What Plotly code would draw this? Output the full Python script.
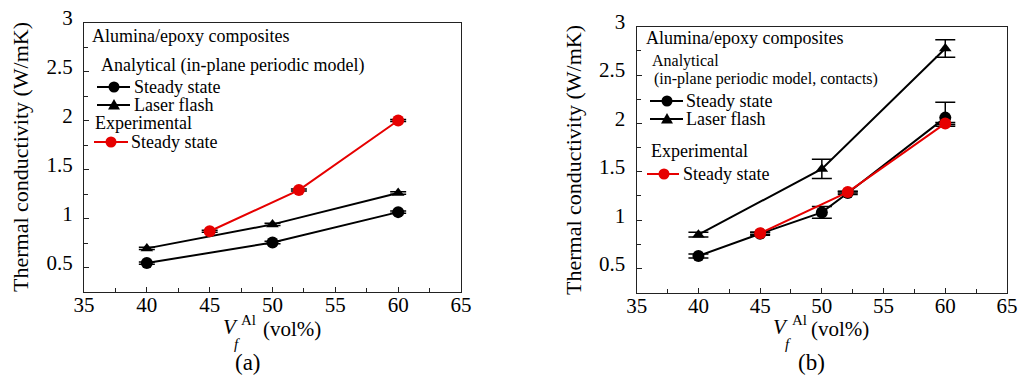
import plotly.graph_objects as go

W, H = 1018, 378
FONT = "Times New Roman"
RED = "#e60000"

# ---------------- data ----------------
# panel (a)
xa_ss = [40, 50, 60]
ya_ss = [0.545, 0.755, 1.065]
ea_ss = [0.012, 0.012, 0.012]
xa_lf = [40, 50, 60]
ya_lf = [0.695, 0.94, 1.26]
ea_lf = [0.012, 0.012, 0.012]
xa_exp = [45, 52.1, 60]
ya_exp = [0.87, 1.29, 2.0]
ea_exp = [0.01, 0.01, 0.01]

# panel (b)
xb_ss = [40, 45, 50, 52.1, 60]
yb_ss = [0.63, 0.86, 1.08, 1.28, 2.06]
eb_ss_plus = [0.02, 0.015, 0.06, 0.015, 0.16]
eb_ss_minus = [0.02, 0.015, 0.06, 0.015, 0.09]
xb_lf = [40, 50, 60]
yb_lf = [0.85, 1.53, 2.775]
eb_lf = [0.025, 0.1, 0.09]
xb_exp = [45, 52.1, 60]
yb_exp = [0.865, 1.29, 2.0]
eb_exp = [0.01, 0.01, 0.01]

x_ticks = [35, 40, 45, 50, 55, 60, 65]
x_ticklabels = ["35", "40", "45", "50", "55", "60", "65"]
y_ticks = [0.5, 1, 1.5, 2, 2.5, 3]
y_ticklabels = ["0.5", "1", "1.5", "2", "2.5", "3"]


def px(x):
    return x / W


def py(y):
    return 1 - y / H


fig = go.Figure()


def add_series(x, y, ep, em, xa, ya, color, symbol, size, capw, name):
    fig.add_trace(go.Scatter(
        x=x, y=y, xaxis=xa, yaxis=ya, mode="lines+markers", name=name,
        line=dict(color=color, width=2),
        marker=dict(color=color, symbol=symbol, size=size, line=dict(width=0)),
        error_y=dict(type="data", symmetric=False, array=ep, arrayminus=em,
                     color="black", thickness=1.5, width=capw),
        showlegend=False,
    ))


# panel (a)
add_series(xa_ss, ya_ss, ea_ss, ea_ss, "x", "y", "black", "circle", 12, 8, "ss")
add_series(xa_lf, ya_lf, ea_lf, ea_lf, "x", "y", "black", "triangle-up", 11, 8, "lf")
add_series(xa_exp, ya_exp, ea_exp, ea_exp, "x", "y", RED, "circle", 12, 8, "exp")
# panel (b)
add_series(xb_ss, yb_ss, eb_ss_plus, eb_ss_minus, "x2", "y2", "black", "circle", 12, 10, "ss")
add_series(xb_lf, yb_lf, eb_lf, eb_lf, "x2", "y2", "black", "triangle-up", 11, 10, "lf")
add_series(xb_exp, yb_exp, eb_exp, eb_exp, "x2", "y2", RED, "circle", 12, 10, "exp")

axis_common = dict(
    showline=True, linecolor="#222", linewidth=1.3, mirror=True, automargin=False,
    showgrid=False, zeroline=False, ticks="inside", ticklen=5, tickwidth=1.2,
    tickcolor="#222", tickfont=dict(family=FONT, size=21, color="black"),
)
xcommon = dict(axis_common, range=[35, 65], tickmode="array", tickvals=x_ticks,
               ticktext=x_ticklabels, ticklabelstandoff=-6,
               minor=dict(ticks="inside", ticklen=4, tickwidth=1.1, tickcolor="#222", dtick=2.5,
                          tick0=35, showgrid=False))
ycommon = dict(axis_common, range=[0.25, 3], tickmode="array", tickvals=y_ticks,
               ticktext=y_ticklabels, ticklabelstandoff=6, ticklabelshift=-5,
               minor=dict(ticks="inside", ticklen=4, tickwidth=1.1, tickcolor="#222", dtick=0.25,
                          tick0=0.25, showgrid=False))

fig.update_layout(
    width=W, height=H, margin=dict(l=0, r=0, t=0, b=0, autoexpand=False),
    paper_bgcolor="white", plot_bgcolor="white",
    xaxis=dict(xcommon, domain=[px(84), px(461)], anchor="y"),
    yaxis=dict(ycommon, domain=[py(292), py(22.5)], anchor="x"),
    xaxis2=dict(xcommon, domain=[px(636.7), px(1007)], anchor="y2"),
    yaxis2=dict(ycommon, domain=[py(292.7), py(26.7)], anchor="x2"),
)

annotations = []
shapes = []


def text(x, y, s, size, anchor="left", angle=0):
    annotations.append(dict(x=px(x), y=py(y), xref="paper", yref="paper", text=s,
                            showarrow=False, xanchor=anchor, yanchor="middle",
                            textangle=angle, borderpad=0,
                            font=dict(family=FONT, size=size, color="black")))


def key_line(x0, x1, y, color):
    shapes.append(dict(type="line", xref="paper", yref="paper", x0=px(x0), x1=px(x1),
                       y0=py(y), y1=py(y), line=dict(color=color, width=2)))


def key_circle(x, y, color, r=5.5):
    shapes.append(dict(type="circle", xref="paper", yref="paper", xsizemode="pixel",
                       ysizemode="pixel", xanchor=px(x), yanchor=py(y),
                       x0=-r, x1=r, y0=-r, y1=r, fillcolor=color,
                       line=dict(color=color, width=0)))


def key_triangle(x, y, color):
    shapes.append(dict(type="path", xref="paper", yref="paper", xsizemode="pixel",
                       ysizemode="pixel", xanchor=px(x), yanchor=py(y),
                       path="M -6 -4.5 L 6 -4.5 L 0 6 Z", fillcolor=color,
                       line=dict(color=color, width=0)))


# legend (a)
text(91, 36, "Alumina/epoxy composites", 18)
text(100, 65, "Analytical (in-plane periodic model)", 18)
key_line(97, 130, 87, "black"); key_circle(114, 87, "black")
text(133, 87, "Steady state", 18)
key_line(97, 130, 105, "black"); key_triangle(114, 105, "black")
text(133, 105, "Laser flash", 18)
text(94, 123, "Experimental", 18)
key_line(94, 128, 142, RED); key_circle(111, 142, RED)
text(130, 142, "Steady state", 18)

# legend (b)
text(645, 38, "Alumina/epoxy composites", 18)
text(651, 61, "Analytical", 16)
text(653, 79, "(in-plane periodic model, contacts)", 16)
key_line(650, 683, 101, "black"); key_circle(667, 101, "black")
text(685, 101, "Steady state", 18)
key_line(650, 683, 119, "black"); key_triangle(667, 119, "black")
text(685, 119, "Laser flash", 18)
text(650, 151, "Experimental", 18)
key_line(647, 679, 174, RED); key_circle(664, 174, RED)
text(682, 174, "Steady state", 18)

# axis titles
for (yx, yy) in [(20, 157), (573, 160)]:
    text(yx, yy, "Thermal conductivity (W/mK)", 22, anchor="center", angle=-90)

# x titles
text(221.5, 327, "<i>V</i>", 21)
text(233, 344, "<i>f</i>", 15)
text(239.5, 320, "Al", 15)
text(262, 329, "(vol%)", 21)
text(247.5, 362, "(a)", 23, anchor="center")

text(772, 327, "<i>V</i>", 21)
text(784, 344, "<i>f</i>", 15)
text(790.5, 320, "Al", 15)
text(810, 329, "(vol%)", 21)
text(811, 362, "(b)", 23, anchor="center")

fig.update_layout(annotations=annotations, shapes=shapes)
fig.write_html("out.html")
